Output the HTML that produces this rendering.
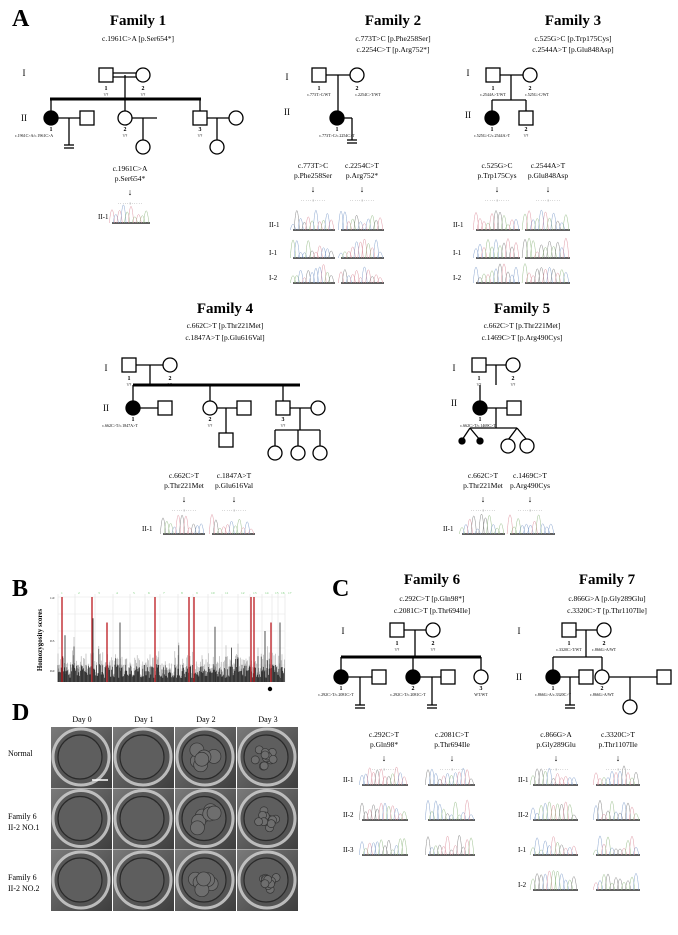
<!DOCTYPE html>
<html><head><meta charset="utf-8"><style>
html,body{margin:0;padding:0;background:#fff}
svg{display:block;font-family:"Liberation Serif",serif}
</style></head><body>
<svg id="s" width="678" height="935" viewBox="0 0 678 935" xmlns="http://www.w3.org/2000/svg">
<defs>
<linearGradient id="bg" x1="0" y1="0" x2="1" y2="1"><stop offset="0" stop-color="#7a7a7a"/><stop offset="1" stop-color="#3e3e3e"/></linearGradient>
</defs>
<g font-weight="bold" font-size="24"><text x="12" y="26">A</text><text x="12" y="596">B</text><text x="332" y="596">C</text><text x="12" y="720">D</text></g>
<g font-size="15" text-anchor="middle" font-weight="bold">
<text x="138" y="25">Family 1</text><text x="393" y="25">Family 2</text><text x="573" y="25">Family 3</text>
<text x="225" y="313">Family 4</text><text x="522" y="313">Family 5</text>
<text x="432" y="584">Family 6</text><text x="607" y="584">Family 7</text>
</g>
<g font-size="7.5" text-anchor="middle">
<text x="138" y="41">c.1961C&gt;A [p.Ser654*]</text>
<text x="393" y="41">c.773T&gt;C [p.Phe258Ser]</text><text x="393" y="52">c.2254C&gt;T [p.Arg752*]</text>
<text x="573" y="41">c.525G&gt;C [p.Trp175Cys]</text><text x="573" y="52">c.2544A&gt;T [p.Glu848Asp]</text>
<text x="225" y="328">c.662C&gt;T [p.Thr221Met]</text><text x="225" y="340">c.1847A&gt;T [p.Glu616Val]</text>
<text x="522" y="328">c.662C&gt;T [p.Thr221Met]</text><text x="522" y="340">c.1469C&gt;T [p.Arg490Cys]</text>
<text x="432" y="601">c.292C&gt;T [p.Gln98*]</text><text x="432" y="613">c.2081C&gt;T [p.Thr694Ile]</text>
<text x="607" y="601">c.866G&gt;A [p.Gly289Glu]</text><text x="607" y="613">c.3320C&gt;T [p.Thr1107Ile]</text>
</g>
<g id="ped" stroke="#000" fill="#fff" stroke-width="1.3"></g>
<g id="txt" font-size="7.5" text-anchor="middle"></g>
<g id="chr" fill="none" stroke-width="0.5"></g>
<g id="bplot"></g>
<g id="demb"></g>
<g font-size="8" text-anchor="middle">
<text x="82" y="722">Day 0</text><text x="144" y="722">Day 1</text><text x="206" y="722">Day 2</text><text x="268" y="722">Day 3</text>
</g>
<g font-size="8">
<text x="8" y="756">Normal</text>
<text x="8" y="819">Family 6</text><text x="8" y="830">II-2 NO.1</text>
<text x="8" y="880">Family 6</text><text x="8" y="891">II-2 NO.2</text>
</g>
</svg>
<script>
var NS="http://www.w3.org/2000/svg";
function el(p,t,a,txt){var e=document.createElementNS(NS,t);for(var k in a)e.setAttribute(k,a[k]);if(txt!=null)e.textContent=txt;(typeof p=='string'?document.getElementById(p):p).appendChild(e);return e;}
function L(x1,y1,x2,y2,w){el('ped','line',{x1:x1,y1:y1,x2:x2,y2:y2,'stroke-width':w||1.3});}
function Sq(cx,cy){el('ped','rect',{x:cx-7,y:cy-7,width:14,height:14});}
function Ci(cx,cy,f){el('ped','circle',{cx:cx,cy:cy,r:7,fill:f?'#000':'#fff'});}
function T(x,y,s,sz,b,anc){el('txt','text',{x:x,y:y,'font-size':sz||7.5,'font-weight':b?'bold':'normal','text-anchor':anc||'middle'},s);}
// Family 1
T(24,76,'I',9);T(24,121,'II',9);
L(113,73,136,73);L(113,77,136,77);L(125,75,125,99);L(50,99,201,99,3);
L(51,99,51,111);L(125,99,125,111);L(200,99,200,111);
L(58,118,80,118);L(69,118,69,145);L(64,145,74,145);L(64,148,74,148);
L(132,118,157,118);L(143,118,143,140);L(207,118,229,118);L(217,118,217,140);
Sq(106,75);Ci(143,75);Ci(51,118,1);Sq(87,118);Ci(125,118);Ci(143,147);Sq(200,118);Ci(236,118);Ci(217,147);
T(106,90,'1',6,1);T(106,96,'?/?',4);T(143,90,'2',6,1);T(143,96,'?/?',4);
T(51,131,'1',6,1);T(34,137,'c.1961C>A/c.1961C>A',4);T(125,131,'2',6,1);T(125,137,'?/?',4);T(200,131,'3',6,1);T(200,137,'?/?',4);
// Family 2
T(287,80,'I',9);T(287,115,'II',9);
Sq(319,75);Ci(357,75);L(326,75,350,75);L(338,75,338,111);Ci(337,118,1);L(344,118,352,118);L(352,118,352,140);L(347,140,357,140);L(347,143,357,143);
T(319,90,'1',6,1);T(319,96,'c.773T>C/WT',4);T(357,90,'2',6,1);T(368,96,'c.2254C>T/WT',4);T(337,131,'1',6,1);T(337,137,'c.773T>C/c.2254C>T',4);
// Family 3
T(468,76,'I',9);T(468,118,'II',9);
Sq(493,75);Ci(530,75);L(500,75,523,75);L(511,75,511,100);L(492,100,526,100);L(492,100,492,111);L(526,100,526,111);
Ci(492,118,1);Sq(526,118);
T(493,90,'1',6,1);T(493,96,'c.2544A>T/WT',4);T(530,90,'2',6,1);T(537,96,'c.525G>C/WT',4);T(492,131,'1',6,1);T(492,137,'c.525G>C/c.2544A>T',4);T(526,131,'2',6,1);T(526,137,'?/?',4);
// Family 4
T(106,371,'I',9);T(106,411,'II',9);
Sq(129,365);Ci(170,365);L(136,365,163,365);L(150,365,150,385);L(133,385,300,385,3);
L(133,385,133,401);L(210,385,210,401);L(283,385,283,401);
Ci(133,408,1);Sq(165,408);L(140,408,158,408);
Ci(210,408);Sq(244,408);L(217,408,237,408);L(226,408,226,433);Sq(226,440);
Sq(283,408);Ci(318,408);L(290,408,311,408);L(300,408,300,430);L(275,430,320,430);L(275,430,275,446);L(298,430,298,446);L(320,430,320,446);
Ci(275,453);Ci(298,453);Ci(320,453);
T(129,380,'1',6,1);T(129,386,'?/?',4);T(170,380,'2',6,1);T(170,386,'?/?',4);
T(133,421,'1',6,1);T(120,427,'c.662C>T/c.1847A>T',4);T(210,421,'2',6,1);T(210,427,'?/?',4);T(283,421,'3',6,1);T(283,427,'?/?',4);
// Family 5
T(454,371,'I',9);T(454,406,'II',9);
Sq(479,365);Ci(513,365);L(486,365,506,365);L(496,365,496,385);L(480,385,480,401);
Ci(480,408,1);Sq(514,408);L(487,408,507,408);L(496,408,496,428);L(470,428,517,428);
L(470,428,462,440);L(470,428,480,440);L(517,428,508,440);L(517,428,527,440);
el('ped','circle',{cx:462,cy:441,r:3,fill:'#000'});el('ped','circle',{cx:480,cy:441,r:3,fill:'#000'});
Ci(508,446);Ci(527,446);
T(479,380,'1',6,1);T(479,386,'?/?',4);T(513,380,'2',6,1);T(513,386,'?/?',4);T(480,421,'1',6,1);T(478,427,'c.662C>T/c.1469C>T',4);
// Family 6
T(343,634,'I',9);T(343,680,'II',9);
Sq(397,630);Ci(433,630);L(404,630,426,630);L(415,630,415,657);L(341,657,481,657,3);
L(341,657,341,670);L(413,657,413,670);L(481,657,481,670);
Ci(341,677,1);Sq(379,677);L(348,677,372,677);L(360,677,360,705);L(355,705,365,705);L(355,708,365,708);
Ci(413,677,1);Sq(448,677);L(420,677,441,677);L(432,677,432,705);L(427,705,437,705);L(427,708,437,708);
Ci(481,677);
T(397,645,'1',6,1);T(397,651,'?/?',4);T(433,645,'2',6,1);T(433,651,'?/?',4);
T(341,690,'1',6,1);T(336,696,'c.292C>T/c.2081C>T',4);T(413,690,'2',6,1);T(408,696,'c.292C>T/c.2081C>T',4);T(481,690,'3',6,1);T(481,696,'WT/WT',4);
// Family 7
T(519,634,'I',9);T(519,680,'II',9);
Sq(569,630);Ci(604,630);L(576,630,597,630);L(586,630,586,657);L(553,657,602,657);L(553,657,553,670);L(602,657,602,670);
Ci(553,677,1);Sq(586,677);L(560,677,579,677);L(570,677,570,705);L(565,705,575,705);L(565,708,575,708);
Ci(602,677);Sq(664,677);L(609,677,657,677);L(630,677,630,700);Ci(630,707);
T(569,645,'1',6,1);T(569,651,'c.3320C>T/WT',4);T(604,645,'2',6,1);T(604,651,'c.866G>A/WT',4);
T(553,690,'1',6,1);T(553,696,'c.866G>A/c.3320C>T',4);T(602,690,'2',6,1);T(602,696,'c.866G>A/WT',4);
// sequence headers
function hdr(x,y,a,b){T(x,y,a,7.5);T(x,y+10,b,7.5);T(x,y+24,'↓',9);T(x,y+34,'· · · · · ⁞ · · · · ·',4);}
hdr(130,171,'c.1961C>A','p.Ser654*');
hdr(313,168,'c.773T>C','p.Phe258Ser');hdr(362,168,'c.2254C>T','p.Arg752*');
hdr(497,168,'c.525G>C','p.Trp175Cys');hdr(548,168,'c.2544A>T','p.Glu848Asp');
hdr(184,478,'c.662C>T','p.Thr221Met');hdr(234,478,'c.1847A>T','p.Glu616Val');
hdr(483,478,'c.662C>T','p.Thr221Met');hdr(530,478,'c.1469C>T','p.Arg490Cys');
hdr(384,737,'c.292C>T','p.Gln98*');hdr(452,737,'c.2081C>T','p.Thr694Ile');
hdr(556,737,'c.866G>A','p.Gly289Glu');hdr(618,737,'c.3320C>T','p.Thr1107Ile');
// chromatograms
var seed=7;function rnd(){seed=(seed*9301+49297)%233280;return seed/233280;}
var cols=['#8aa6d0','#e09aa6','#9cc08e','#888'];
function chrom(x,base,w){el('chr','line',{x1:x,y1:base,x2:x+w,y2:base,stroke:'#000','stroke-width':1.2});
 var n=Math.round(w/4);
 for(var i=0;i<n;i++){var c=Math.floor(rnd()*4);var px=x+i*w/n;var h=5+rnd()*15;var hw=w/n*0.7;
  el('chr','path',{d:'M'+(px-hw).toFixed(1)+','+base+' Q'+px.toFixed(1)+','+(base-h*2).toFixed(1)+' '+(px+hw).toFixed(1)+','+base,stroke:cols[c]});}}
function lab(x,y,s){T(x,y,s,7,0,'start');}
chrom(112,223,38);lab(98,219,'II-1');
[[230,'II-1'],[258,'I-1'],[283,'I-2']].forEach(function(r){chrom(293,r[0],42);chrom(341,r[0],43);lab(269,r[0]-3,r[1]);chrom(476,r[0],44);chrom(525,r[0],45);lab(453,r[0]-3,r[1]);});
chrom(163,534,42);chrom(212,534,43);lab(142,531,'II-1');
chrom(462,534,43);chrom(510,534,45);lab(443,531,'II-1');
[[785,'II-1'],[820,'II-2'],[855,'II-3']].forEach(function(r){chrom(362,r[0],46);chrom(428,r[0],47);lab(343,r[0]-3,r[1]);});
[[785,'II-1'],[820,'II-2'],[855,'I-1'],[890,'I-2']].forEach(function(r){chrom(533,r[0],45);chrom(596,r[0],44);lab(518,r[0]-3,r[1]);});
// B plot
var g='bplot';
el(g,'text',{x:0,y:0,'font-size':7,'font-weight':'bold','text-anchor':'middle',transform:'translate(42,640) rotate(-90)'},'Homozygosity scores');
for(var k=0;k<5;k++)el(g,'line',{x1:58,y1:597+k*17,x2:285,y2:597+k*17,stroke:'#e4e4e4','stroke-width':0.5});
var chx=[58,75,95,113,130,145,160,178,193,208,222,238,250,262,272,278,285];
chx.forEach(function(x,i){el(g,'line',{x1:x,y1:594,x2:x,y2:682,stroke:'#ddd','stroke-width':0.5});el(g,'text',{x:x+3,y:594,'font-size':3.5,fill:'#7c7'},String(i+1));});
el(g,'text',{x:50,y:599,'font-size':3.5},'1.0');el(g,'text',{x:50,y:642,'font-size':3.5},'0.5');el(g,'text',{x:50,y:672,'font-size':3.5},'0.0');
var d1='',d2='';for(var x=58;x<285;x+=0.8){var h=4+rnd()*14+(rnd()<0.06?rnd()*25:0);var h2=h+rnd()*14;d2+='M'+x.toFixed(1)+',682V'+(682-h2).toFixed(1);d1+='M'+x.toFixed(1)+',682V'+(682-h).toFixed(1);}
el(g,'path',{d:d2,stroke:'#aaa','stroke-width':0.6});el(g,'path',{d:d1,stroke:'#111','stroke-width':0.6});
[[62,1],[92,1],[107,0.7],[155,1],[189,1],[194,1],[251,1],[254,1],[271,0.7]].forEach(function(p){el(g,'line',{x1:p[0],y1:682,x2:p[0],y2:682-85*p[1],stroke:'#c0272d','stroke-width':1.4});});
[[65,0.55],[93,0.75],[120,0.7],[215,0.65],[265,0.6],[280,0.7]].forEach(function(p){el(g,'line',{x1:p[0],y1:682,x2:p[0],y2:682-85*p[1],stroke:'#222','stroke-width':0.8});});
el(g,'circle',{cx:270,cy:689,r:2.2,fill:'#000'});
// D embryos
var svg=document.getElementById('s');var defs=svg.querySelector('defs');
for(var r=0;r<3;r++)for(var c=0;c<4;c++){var x=51+c*62,y=727+r*61.5;
 var cp=el(defs,'clipPath',{id:'cp'+r+c});el(cp,'rect',{x:x,y:y,width:61,height:61});
 var gg=el('demb','g',{'clip-path':'url(#cp'+r+c+')'});
 el(gg,'rect',{x:x,y:y,width:61,height:61,fill:'url(#bg)'});
 el(gg,'circle',{cx:x+30,cy:y+30,r:28,fill:'#555',stroke:'#c8c8c8','stroke-width':3,opacity:0.9});
 el(gg,'circle',{cx:x+29,cy:y+30,r:22,fill:'#5e5e5e',stroke:'#2a2a2a','stroke-width':1.2});
 if(c>=2){for(var i=0;i<(c==2?6:14);i++){var a=rnd()*6.28,rr=rnd()*12;el(gg,'circle',{cx:x+29+Math.cos(a)*rr,cy:y+30+Math.sin(a)*rr,r:c==2?7:4,fill:'#6e6e6e',stroke:'#333','stroke-width':0.7});}}
}
el('demb','line',{x1:92,y1:780,x2:108,y2:780,stroke:'#fff','stroke-width':1.5});
</script>
</body></html>
